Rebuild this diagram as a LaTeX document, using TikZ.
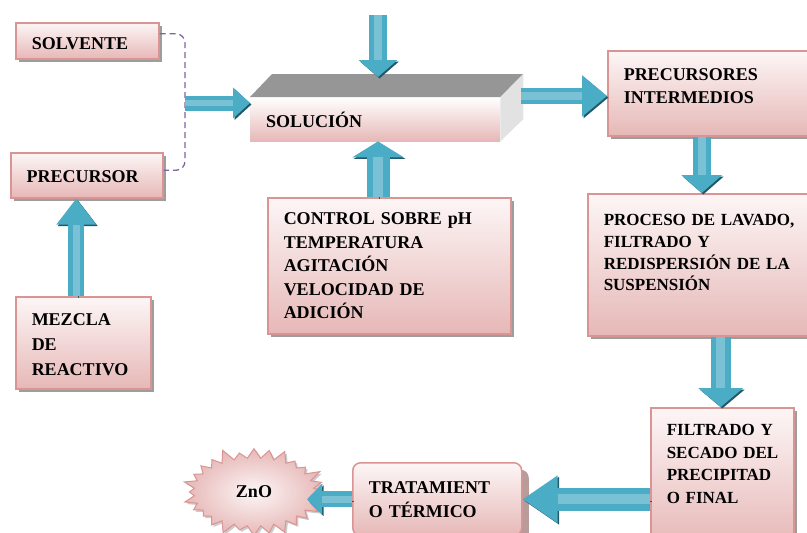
\documentclass[tikz,border=0pt]{standalone}
\usepackage{fontspec}
\setmainfont{Liberation Serif}
\usetikzlibrary{arrows.meta,shadows,shapes.symbols,positioning}

\definecolor{boxedge}{RGB}{217,149,148}
\definecolor{boxtop}{RGB}{253,246,246}
\definecolor{boxpink}{RGB}{230,184,183}
\definecolor{arrowteal}{RGB}{75,172,198}
\definecolor{arrowdark}{RGB}{33,89,104}
\definecolor{arrowlight}{RGB}{122,193,214}
\definecolor{dashpurple}{RGB}{128,100,162}
\definecolor{topgray}{RGB}{150,150,150}
\definecolor{sidegray}{RGB}{226,226,226}
\definecolor{shadowbrown}{RGB}{185,155,154}

\begin{document}
\begin{tikzpicture}[x=1pt,y=-1pt,
  basebox/.style={draw=boxedge, line width=1.5pt, top color=boxtop, bottom color=boxpink,
    anchor=north west, inner xsep=16pt, inner ysep=0pt, align=left,
    font=\fontsize{18}{23}\selectfont\bfseries},
  box/.style={basebox, drop shadow={shadow xshift=3pt,shadow yshift=-3pt,fill=black!55,opacity=0.7}},
  roundbox/.style={basebox, rounded corners=8pt,
    drop shadow={shadow xshift=7pt,shadow yshift=-7pt,fill=shadowbrown,opacity=1}},
  front/.style={top color=white, bottom color=boxpink, anchor=north west,
    inner xsep=16pt, inner ysep=0pt, align=left, font=\fontsize{18}{23}\selectfont\bfseries},
  fat/.style n args={3}{draw=arrowteal, line width=#1pt, -{Triangle[width=#2pt,length=#3pt]},
    preaction={draw=arrowdark, transform canvas={xshift=1.5pt,yshift=-1.5pt}},
    postaction={draw=arrowlight, line width=0.45*#1pt, shorten >=#3pt, -}},
  dashline/.style={draw=dashpurple, line width=1.3pt, dash pattern=on 6pt off 4pt, rounded corners=9pt}]
\useasboundingbox (0,0) rectangle (807,533);

\node[box, text width=111pt, text height=27pt, text depth=9pt] (solv) at (15,22) {SOLVENTE};
\node[box, text width=120pt, text height=30pt, text depth=15pt] (prec) at (10,152) {PRECURSOR};
\node[box, text width=103pt, text height=29pt, text depth=63pt,
  font=\fontsize{18}{25}\selectfont\bfseries] (mezcla) at (15,296) {MEZCLA\\DE\\REACTIVO};

\node[front, text width=218pt, text height=30pt, text depth=14pt] (sol) at (250,97) {SOLUCIÓN};
\fill[topgray] (sol.north west) -- ++(22,-23) -- ++(251,0) -- (sol.north east) -- cycle;
\fill[sidegray] (sol.north east) -- ++(23,-23) -- ++(0,45) -- (sol.south east) -- cycle;

\node[box, text width=211pt, text height=27pt, text depth=109pt,
  font=\fontsize{18}{23.5}\selectfont\bfseries] (ctrl) at (267,197)
  {CONTROL SOBRE pH\\TEMPERATURA\\AGITACIÓN\\VELOCIDAD DE\\ADICIÓN};
\node[box, text width=188pt, text height=30pt, text depth=55pt] (inter) at (607,50)
  {PRECURSORES\\INTERMEDIOS};
\node[box, text width=208pt, text height=32pt, text depth=110pt,
  font=\fontsize{17}{21.7}\selectfont\bfseries] (proc) at (587,193)
  {PROCESO~DE~LAVADO,\\FILTRADO Y\\REDISPERSIÓN~DE~LA\\SUSPENSIÓN};
\node[box, text width=111pt, text height=28pt, text depth=110pt,
  font=\fontsize{17}{22.5}\selectfont\bfseries] (filt) at (650,407)
  {FILTRADO~Y\\SECADO~DEL\\PRECIPITAD\\O~FINAL};
\node[roundbox, text width=137pt, text height=31pt, text depth=42pt,
  font=\fontsize{18}{24}\selectfont\bfseries] (trat) at (352,462)
  {TRATAMIENT\\O~TÉRMICO};
\node[starburst, starburst points=28, starburst point height=13pt, random starburst=100,
  minimum width=146pt, minimum height=94pt, draw=boxedge, line width=1pt,
  inner color=boxtop, outer color=boxpink,
  drop shadow={shadow xshift=2pt,shadow yshift=-2pt,fill=black!40,opacity=0.5},
  font=\fontsize{18}{23}\selectfont\bfseries] (zno) at (254,492) {ZnO};

\coordinate (joint) at (185,103);
\coordinate (topin) at (378,15);
\coordinate (toptip) at (378,77);
\coordinate (solout) at (521,96);
\coordinate (znotip) at (307,498);

\draw[dashline] ([yshift=7pt]solv.east) -| (joint) |- ([yshift=5pt]prec.east);

\draw[fat={15}{30}{17}] (joint) -- (joint -| sol.west);
\draw[fat={18}{38}{17}] (topin) -- (toptip);
\draw[fat={23}{51}{16}] (ctrl.north -| topin) -- (sol.south -| topin);
\draw[fat={16}{40}{25}] (solout) -- (solout -| inter.west);
\draw[fat={18}{40}{18}] ([xshift=-16pt]inter.south) -- ([xshift=-16pt]inter.south |- proc.north);
\draw[fat={20}{44}{19}] ([xshift=13pt]proc.south) -- ([xshift=13pt]proc.south |- filt.north);
\draw[fat={23}{45}{35}] (filt.west |- trat.east) -- (trat.east);
\draw[fat={16}{30}{15}] (trat.west) -- (trat.west -| znotip);
\draw[fat={16}{38}{26}] ([xshift=-7pt]mezcla.north) -- ([xshift=-7pt]mezcla.north |- prec.south);
\end{tikzpicture}
\end{document}
